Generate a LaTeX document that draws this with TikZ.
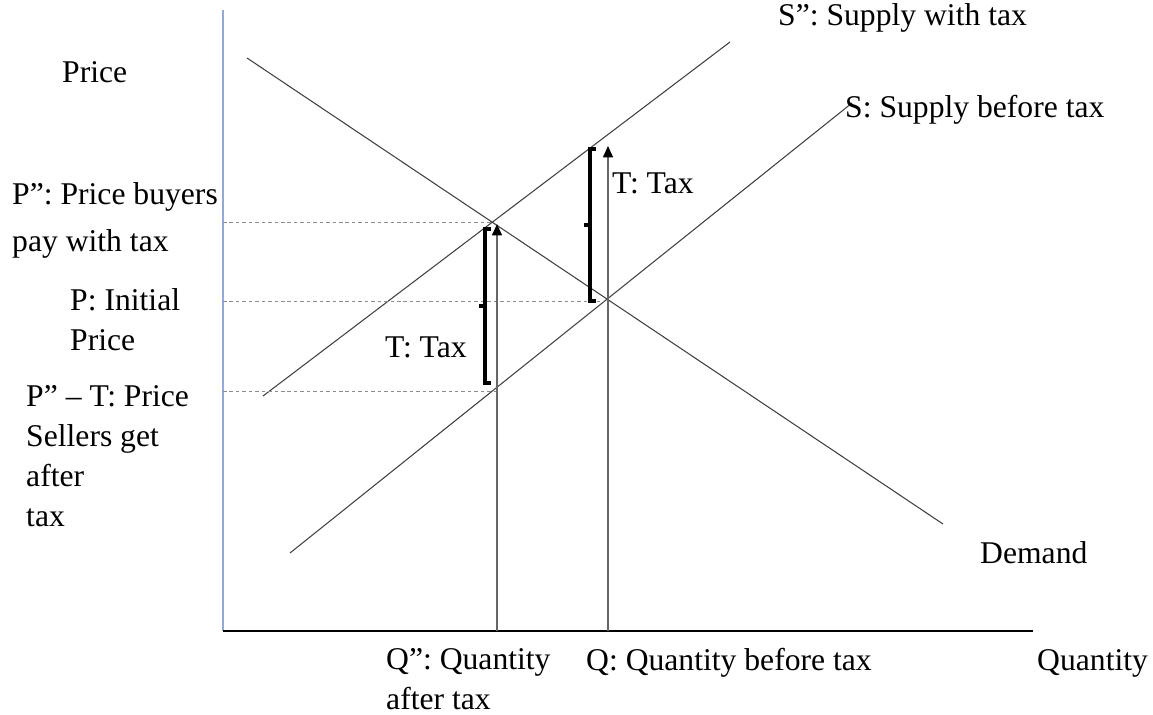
\documentclass[tikz,border=0pt]{standalone}
\usepackage{fontspec}
\setmainfont{Liberation Serif}
\usetikzlibrary{arrows.meta}
\definecolor{axisblue}{HTML}{8EA9DB}
\begin{document}
\begin{tikzpicture}[x=0.03cm, y=-0.03cm,
        curve/.style={line width=0.9pt, black!75},
        guide/.style={dashed, dash pattern=on 3pt off 2.5pt, black!45, line width=0.7pt},
        taxarrow/.style={black!60, line width=0.9pt, -{Triangle[length=0.34cm,width=0.3cm,color=black]}},
        taxbrace/.style={line width=3.2pt, line join=miter},
        lbl/.style={inner sep=0pt, anchor=west, align=left,
            font=\fontsize{27}{34}\selectfont}]

        \useasboundingbox (0,0) rectangle (1153,714);

        % axes
        \coordinate (O) at (223, 631);
        \coordinate (ytop) at (223, 10);
        \coordinate (xend) at (1033, 631);
        \draw[axisblue, line width=1pt] (O) -- (ytop);
        \draw[line width=1pt] (O) -- (xend);

        % curves
        \coordinate (d-1) at (247, 58);
        \coordinate (d-2) at (943, 524);
        \coordinate (s-1) at (290, 553);
        \coordinate (s-2) at (852, 103);
        \coordinate (st-1) at (263, 396);
        \coordinate (st-2) at (730, 42);
        \draw[curve] (d-1) -- (d-2);
        \draw[curve] (s-1) -- (s-2);
        \draw[curve] (st-1) -- (st-2);

        % price levels
        \coordinate (py-1) at (223, 222);
        \coordinate (py-2) at (493, 222);
        \coordinate (p-1) at (223, 301);
        \coordinate (p-2) at (604, 301);
        \coordinate (ps-1) at (223, 391);
        \coordinate (ps-2) at (497, 391);
        \draw[guide] (py-1) -- (py-2);
        \draw[guide] (p-1) -- (p-2);
        \draw[guide] (ps-1) -- (ps-2);

        % quantities
        \coordinate (qt-1) at (497, 631);
        \coordinate (qt-2) at (497, 224);
        \coordinate (q-1) at (608, 631);
        \coordinate (q-2) at (608, 146);
        \draw[taxarrow] (qt-1) -- (qt-2);
        \draw[taxarrow] (q-1) -- (q-2);

        % tax brackets
        \coordinate (b1-top) at (485, 229);
        \coordinate (b1-mid) at (485, 306);
        \coordinate (b1-bot) at (485, 383);
        \coordinate (b2-top) at (590, 149);
        \coordinate (b2-mid) at (590, 225);
        \coordinate (b2-bot) at (590, 301);
        \draw[taxbrace] ([xshift=5]b1-top) -- (b1-top) -- (b1-bot) -- ([xshift=5]b1-bot);
        \draw[taxbrace] (b1-mid) -- ([xshift=-5]b1-mid);
        \draw[taxbrace] ([xshift=5]b2-top) -- (b2-top) -- (b2-bot) -- ([xshift=5]b2-bot);
        \draw[taxbrace] (b2-mid) -- ([xshift=-5]b2-mid);

        % labels
        \node (price) at (62, 72) [lbl] {Price};
        \node (ptax) at (12, 220) [lbl, font=\fontsize{27}{40}\selectfont] {P”: Price buyers\\pay with tax};
        \node (pinit) at (70, 320) [lbl] {P: Initial\\Price};
        \node (psell) at (26, 456) [lbl] {P” – T: Price\\Sellers get\\after\\tax};
        \node (stax) at (778, 18) [lbl] {S”: Supply with tax};
        \node (sup) at (845, 110) [lbl] {S: Supply before tax};
        \node (tax-1) at (612, 183) [lbl] {T: Tax};
        \node (tax-2) at (385, 347) [lbl] {T: Tax};
        \node (dem) at (980, 553) [lbl] {Demand};
        \node (qtax) at (386, 679) [lbl] {Q”: Quantity\\after tax};
        \node (qbef) at (586, 663) [lbl] {Q: Quantity before tax};
        \node (qty) at (1037, 663) [lbl] {Quantity};

    \end{tikzpicture}
\end{document}
